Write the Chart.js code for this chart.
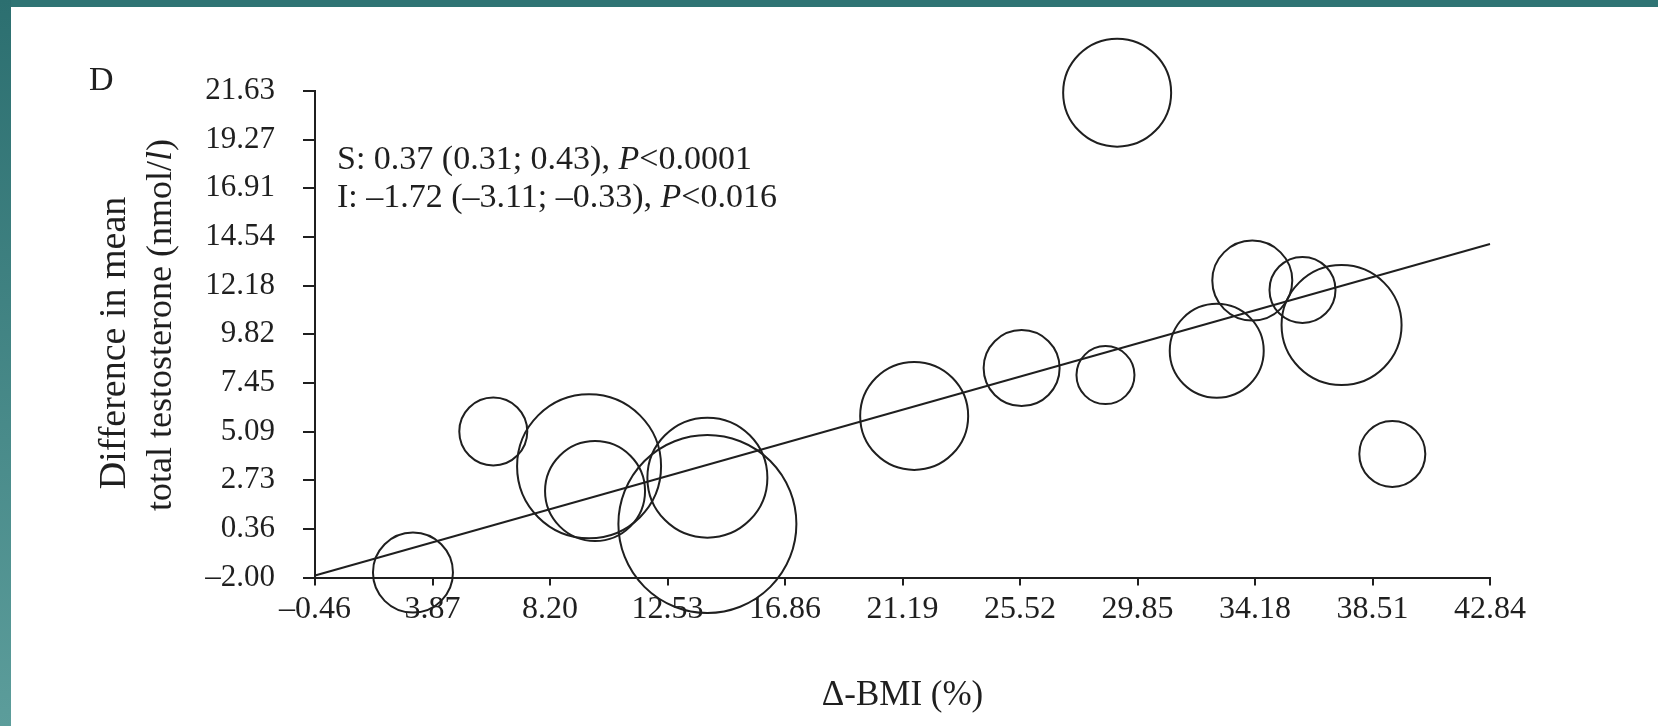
<!DOCTYPE html>
<html>
<head>
<meta charset="utf-8">
<script src="https://cdn.jsdelivr.net/npm/chart.js@4.4.1/dist/chart.umd.min.js"></script>
<style>
  html, body { margin: 0; padding: 0; background: #ffffff; }
  #page { position: relative; width: 1658px; height: 726px; overflow: hidden; background: #ffffff; }
  #topbar { position: absolute; left: 0; top: 0; width: 1658px; height: 7px; background: #2f7474; }
  #leftbar { position: absolute; left: 0; top: 0; width: 11px; height: 726px;
             background: linear-gradient(to bottom, #2c6f70, #5c9d9b); }
  #chart { position: absolute; left: 0; top: 0; }
</style>
</head>
<body>
<div id="page">
  <div id="topbar"></div>
  <div id="leftbar"></div>
  <canvas id="chart" width="1658" height="726"></canvas>
</div>
<script>
// Study-level points: change in BMI (%) vs difference in mean total testosterone (nmol/l)
const deltaBMI     = [3.15, 6.11, 9.64, 9.86, 14.0, 14.0, 21.62, 25.58, 28.67, 29.10, 32.77, 34.08, 35.93, 37.37, 39.24];
const diffTT       = [-1.76, 5.09, 3.40, 2.20, 2.85, 0.60, 5.85, 8.17, 7.83, 21.55, 9.01, 12.42, 11.97, 10.26, 4.00];
const bubbleRadius = [40, 34, 72, 50, 60, 89, 54, 38, 29, 54, 47, 40, 33, 60, 33];

// Meta-regression line end points
const fitX = [-0.46, 42.84];
const fitY = [-1.90, 14.20];

// Axis ticks
const xTicks = [-0.46, 3.87, 8.20, 12.53, 16.86, 21.19, 25.52, 29.85, 34.18, 38.51, 42.84];
const yTicks = [-2.00, 0.36, 2.73, 5.09, 7.45, 9.82, 12.18, 14.54, 16.91, 19.27, 21.63];
const xTickLabels = ['\u20130.46', '3.87', '8.20', '12.53', '16.86', '21.19', '25.52', '29.85', '34.18', '38.51', '42.84'];
const yTickLabels = ['\u20132.00', '0.36', '2.73', '5.09', '7.45', '9.82', '12.18', '14.54', '16.91', '19.27', '21.63'];

const INK = '#1f1f1f';
const SERIF = '"Liberation Serif", "Times New Roman", serif';

const bubbles = deltaBMI.map((x, i) => ({ x: x, y: diffTT[i], r: bubbleRadius[i] }));
const fitLine = fitX.map((x, i) => ({ x: x, y: fitY[i] }));

// Free text: panel letter, regression summary and axis titles
const textPlugin = {
  id: 'panelText',
  afterDraw(chart) {
    const ctx = chart.ctx;
    const area = chart.chartArea;
    ctx.save();
    ctx.fillStyle = INK;
    ctx.textBaseline = 'alphabetic';

    // panel letter
    ctx.font = '34px ' + SERIF;
    ctx.textAlign = 'left';
    ctx.fillText('D', 89, 90);

    // slope / intercept summary, P in italics
    const drawLine = (parts, x, y) => {
      let cx = x;
      parts.forEach(p => {
        ctx.font = (p.italic ? 'italic ' : '') + '34px ' + SERIF;
        ctx.fillText(p.t, cx, y);
        cx += ctx.measureText(p.t).width;
      });
    };
    drawLine([{ t: 'S: 0.37 (0.31; 0.43), ' }, { t: 'P', italic: true }, { t: '<0.0001' }], 337, 169);
    drawLine([{ t: 'I: \u20131.72 (\u20133.11; \u20130.33), ' }, { t: 'P', italic: true }, { t: '<0.016' }], 337, 207);

    // x axis title
    ctx.font = '35px ' + SERIF;
    ctx.textAlign = 'center';
    ctx.fillText('\u0394-BMI (%)', (area.left + area.right) / 2, 705);

    // y axis title (two lines, rotated)
    ctx.save();
    ctx.rotate(-Math.PI / 2);
    ctx.textAlign = 'center';
    ctx.font = '38px ' + SERIF;
    ctx.fillText('Difference in mean', -343, 125);
    // second line, with the final "l" in italics
    const a = 'total testosterone (nmol/', b = 'l', c = ')';
    ctx.font = '36px ' + SERIF;
    const wa = ctx.measureText(a).width, wc = ctx.measureText(c).width;
    ctx.font = 'italic 36px ' + SERIF;
    const wb = ctx.measureText(b).width;
    const sx = -325 - (wa + wb + wc) / 2;
    ctx.textAlign = 'left';
    ctx.font = '36px ' + SERIF;
    ctx.fillText(a, sx, 171);
    ctx.font = 'italic 36px ' + SERIF;
    ctx.fillText(b, sx + wa, 171);
    ctx.font = '36px ' + SERIF;
    ctx.fillText(c, sx + wa + wb, 171);
    ctx.restore();

    ctx.restore();
  }
};

new Chart(document.getElementById('chart'), {
  data: {
    datasets: [
      {
        type: 'bubble',
        data: bubbles,
        backgroundColor: 'rgba(0,0,0,0)',
        borderColor: INK,
        borderWidth: 2,
        hoverRadius: 0,
        clip: false,
        order: 2
      },
      {
        type: 'scatter',
        data: fitLine,
        showLine: true,
        borderColor: INK,
        borderWidth: 2,
        pointRadius: 0,
        fill: false,
        clip: false,
        order: 1
      }
    ]
  },
  options: {
    responsive: false,
    animation: false,
    devicePixelRatio: 1,
    events: [],
    layout: { padding: { left: 0, right: 168, top: 87, bottom: 88.5 } },
    plugins: { legend: { display: false }, tooltip: { enabled: false }, title: { display: false } },
    scales: {
      x: {
        type: 'linear',
        position: 'bottom',
        min: xTicks[0],
        max: xTicks[xTicks.length - 1],
        afterBuildTicks: s => { s.ticks = xTicks.map(v => ({ value: v })); },
        afterFit: s => { s.height = 60; },
        grid: { drawOnChartArea: false, drawTicks: true, tickLength: 8, color: INK, lineWidth: 2 },
        border: { display: true, color: INK, width: 2 },
        ticks: {
          autoSkip: false,
          maxRotation: 0,
          minRotation: 0,
          padding: 5,
          color: INK,
          font: { family: SERIF, size: 32 },
          callback: (v, i) => xTickLabels[i]
        }
      },
      y: {
        type: 'linear',
        position: 'left',
        min: yTicks[0],
        max: yTicks[yTicks.length - 1],
        afterBuildTicks: s => { s.ticks = yTicks.map(v => ({ value: v })); },
        afterFit: s => { s.width = 315; },
        grid: { drawOnChartArea: false, drawTicks: true, tickLength: 12, color: INK, lineWidth: 2 },
        border: { display: true, color: INK, width: 2 },
        ticks: {
          autoSkip: false,
          padding: 28,
          color: INK,
          font: { family: SERIF, size: 31 },
          callback: (v, i) => yTickLabels[i]
        }
      }
    }
  },
  plugins: [textPlugin]
});
</script>
</body>
</html>
